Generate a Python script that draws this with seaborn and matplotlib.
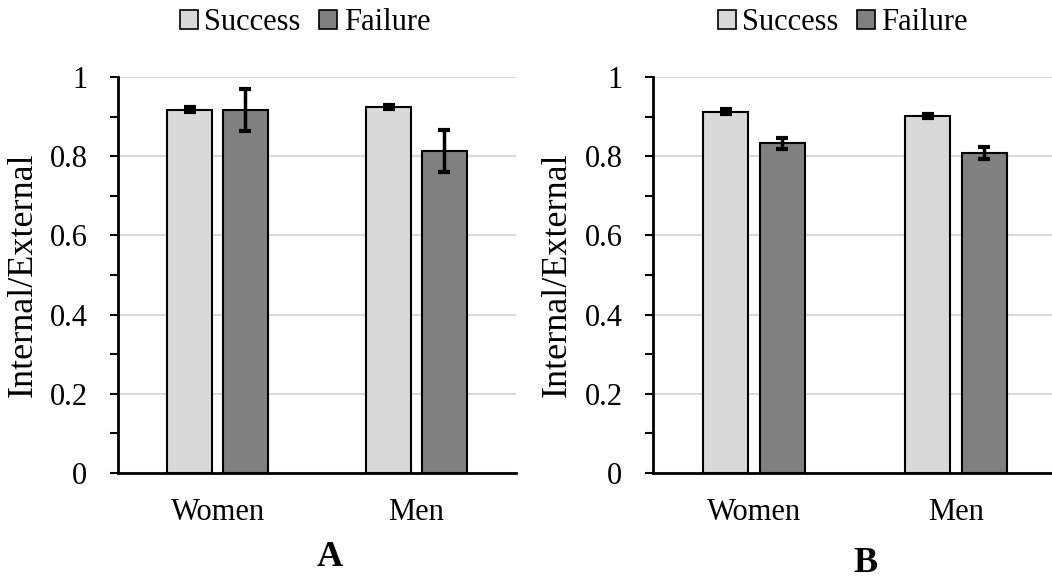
import numpy as np
import pandas as pd
import matplotlib
matplotlib.use("Agg")
import matplotlib.pyplot as plt
import seaborn as sns
from matplotlib.ticker import MultipleLocator

sns.set_theme(style="white")
plt.rcParams["font.family"] = ["Liberation Serif", "DejaVu Serif"]
plt.rcParams["text.color"] = "black"
plt.rcParams["axes.labelcolor"] = "black"
plt.rcParams["xtick.color"] = "black"
plt.rcParams["ytick.color"] = "black"

groups = ["Women", "Men"]
outcomes = ["Success", "Failure"]

# Panel A: means and error half-widths (Women, Men)
a_success = [0.917, 0.925]
a_failure = [0.917, 0.812]
a_success_err = [0.006, 0.005]
a_failure_err = [0.053, 0.053]

# Panel B
b_success = [0.912, 0.901]
b_failure = [0.833, 0.808]
b_success_err = [0.006, 0.005]
b_failure_err = [0.014, 0.014]

palette = {"Success": "#d9d9d9", "Failure": "#808080"}


def make_frame(succ, fail):
    rows = []
    for g, s, f in zip(groups, succ, fail):
        rows.append({"Group": g, "Outcome": "Success", "Value": s})
        rows.append({"Group": g, "Outcome": "Failure", "Value": f})
    return pd.DataFrame(rows)


def draw_panel(ax, succ, fail, succ_err, fail_err, letter, letter_xy):
    df = make_frame(succ, fail)
    sns.barplot(data=df, x="Group", y="Value", hue="Outcome", order=groups,
                hue_order=outcomes, palette=palette, width=0.56, gap=0.2,
                edgecolor="black", linewidth=1.5, errorbar=None, ax=ax,
                legend=False)
    for container, errs in zip(ax.containers, [succ_err, fail_err]):
        for bar, e in zip(container, errs):
            ax.errorbar(bar.get_x() + bar.get_width() / 2, bar.get_height(),
                        yerr=e, fmt="none", ecolor="black", elinewidth=2.5,
                        capsize=4, capthick=3, zorder=5)
    ax.set_ylim(0, 1)
    ax.set_xlim(-0.5, 1.5)
    ax.yaxis.set_minor_locator(MultipleLocator(0.1))
    ax.set_yticks([0, 0.2, 0.4, 0.6, 0.8, 1.0])
    ax.set_yticklabels(["0", "0.2", "0.4", "0.6", "0.8", "1"])
    ax.yaxis.grid(True, which="major", color="#d9d9d9", linewidth=1.5)
    ax.set_axisbelow(True)
    ax.tick_params(axis="y", which="both", left=True, length=6, width=1.5,
                   color="black", labelsize=22, pad=16)
    ax.tick_params(axis="x", length=0, labelsize=22, pad=18)
    for side in ["top", "right"]:
        ax.spines[side].set_visible(False)
    for side in ["left", "bottom"]:
        ax.spines[side].set_color("black")
        ax.spines[side].set_linewidth(2)
    ax.set_xlabel("")
    ax.set_ylabel("Internal/External", fontsize=26)
    ax.yaxis.set_label_coords(-0.196, 0.5)
    handles = [plt.Rectangle((0, 0), 1, 1, facecolor=palette[o],
                             edgecolor="black", linewidth=1.2)
               for o in outcomes]
    ax.legend(handles, outcomes, loc="center", bbox_to_anchor=(0.47, 1.137),
              ncol=2, frameon=False, fontsize=22, handlelength=0.6,
              handleheight=0.6, handletextpad=0.2, columnspacing=0.6,
              borderaxespad=0)
    ax.figure.text(letter_xy[0], letter_xy[1], letter, fontsize=26,
                   fontweight="bold", ha="center", va="center")


fig = plt.figure(figsize=(10.52, 5.81), dpi=100)
ax_a = fig.add_axes([118 / 1052, 108 / 581, 398 / 1052, 396 / 581])
ax_b = fig.add_axes([653 / 1052, 108 / 581, 404 / 1052, 396 / 581])

draw_panel(ax_a, a_success, a_failure, a_success_err, a_failure_err,
           "A", (330 / 1052, 1 - 557 / 581))
draw_panel(ax_b, b_success, b_failure, b_success_err, b_failure_err,
           "B", (866 / 1052, 1 - 563 / 581))

fig.savefig("out.png", dpi=100)
